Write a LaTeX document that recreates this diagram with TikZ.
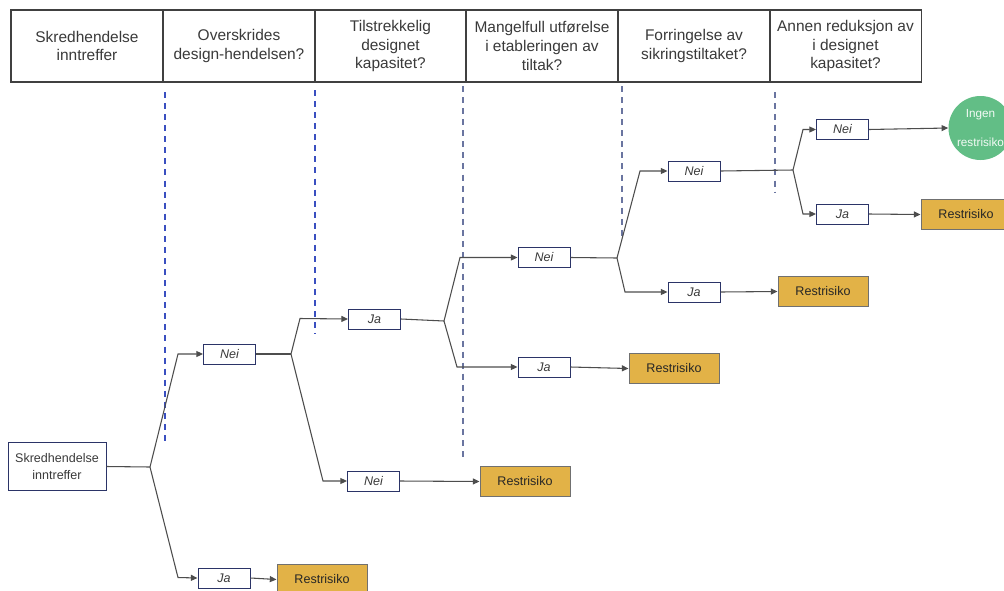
\documentclass[tikz,border=0pt]{standalone}
\usepackage{fontspec}
\setmainfont{Liberation Sans}
\usetikzlibrary{arrows.meta}
\definecolor{navy}{HTML}{2B3467}
\definecolor{boxtext}{HTML}{3A3A3A}
\definecolor{gold}{HTML}{E2B247}
\definecolor{goldedge}{HTML}{707070}
\definecolor{linkgray}{HTML}{4D4D4D}
\definecolor{headedge}{HTML}{404040}
\definecolor{blue1}{HTML}{3A4FC0}
\definecolor{blue2}{HTML}{6A75A0}
\definecolor{okgreen}{HTML}{62BE86}
\tikzset{
  headcell/.style={draw=headedge, line width=0.8pt, minimum width=114pt, minimum height=54pt,
    inner sep=0pt, align=center, font=\fontsize{11.6pt}{14.2pt}\selectfont, text=boxtext},
  answer/.style={draw=navy, line width=0.75pt, fill=white, minimum width=39pt, minimum height=15pt,
    inner sep=0pt, font=\fontsize{9.4pt}{11pt}\selectfont\itshape, text=boxtext},
  startbox/.style={draw=navy, line width=0.75pt, fill=white, minimum width=73.5pt, minimum height=36pt,
    inner sep=0pt, align=center, font=\fontsize{9.4pt}{13pt}\selectfont, text=boxtext},
  result/.style={draw=goldedge, line width=0.75pt, fill=gold, minimum width=67.5pt, minimum height=23pt,
    inner sep=0pt, font=\fontsize{9.4pt}{11pt}\selectfont, text=black!85},
  noresult/.style={circle, fill=okgreen, minimum size=48pt, inner sep=0pt, align=center,
    font=\fontsize{8.8pt}{21.5pt}\selectfont, text=white!92!okgreen},
  link/.style={draw=linkgray, line width=0.8pt},
  arrow/.style={link, -{Triangle[length=5pt,width=4.5pt]}},
  stage/.style={line width=0.8pt, dash pattern=on 4.5pt off 3.8pt},
}
\begin{document}
\begin{tikzpicture}[x=0.75pt,y=-0.75pt]
\clip (0,0) rectangle (1004,590);
\useasboundingbox (0,0) rectangle (1004,590);
\fill[white] (0,0) rectangle (1004,590);

% column headers
\node[headcell] (h1) at (87,46)  {Skredhendelse\\inntreffer};
\node[headcell] (h2) at (239,46) {Overskrides\\design-hendelsen?};
\node[headcell] (h3) at (390.5,46) {Tilstrekkelig\\designet\\kapasitet?};
\node[headcell] (h4) at (542,46) {Mangelfull utførelse\\i etableringen av\\tiltak?};
\node[headcell] (h5) at (694,46) {Forringelse av\\sikringstiltaket?};
\node[headcell] (h6) at (845.5,46) {Annen reduksjon av\\i designet\\kapasitet?};

% stage separators
\draw[stage, blue1] (165,92) -- (165,443);
\draw[stage, blue1] (315,90) -- (315,334);
\draw[stage, blue2] (463,86) -- (463,460);
\draw[stage, blue2] (622,86) -- (622,240);
\draw[stage, blue2] (775,92) -- (775,192);

% nodes
\node[startbox] (s) at (57,466.5) {Skredhendelse\\inntreffer};
\node[answer] (a1n) at (229.5,354) {Nei};
\node[answer] (a1j) at (224,578) {Ja};
\node[result] (r1) at (322,579.5) {Restrisiko};

\node[answer] (a2j) at (374.5,319) {Ja};
\node[answer] (a2n) at (373.5,481) {Nei};
\node[result] (r2) at (525,481.5) {Restrisiko};

\node[answer] (a3n) at (544,257.5) {Nei};
\node[answer] (a3j) at (544,367) {Ja};
\node[result] (r3) at (674,368.5) {Restrisiko};

\node[answer] (a4n) at (694,171) {Nei};
\node[answer] (a4j) at (694,292) {Ja};
\node[result] (r4) at (823,291.5) {Restrisiko};

\node[answer] (a5n) at (842.5,129.5) {Nei};
\node[answer] (a5j) at (842.5,214) {Ja};
\node[result] (r5) at (966,214.5) {Restrisiko};
\node[noresult] (ok) at (980.5,128) {Ingen\\restrisiko};

% branch points and bends
\coordinate (b1) at (150,467);
\coordinate (k1u) at (178,354);
\coordinate (k1d) at (178,577.5);
\coordinate (b2) at (291,354);
\coordinate (k2u) at (300,318.5);
\coordinate (k2d) at (323,481);
\coordinate (b3) at (444,321);
\coordinate (k3u) at (460,257.5);
\coordinate (k3d) at (457,367);
\coordinate (b4) at (617,258);
\coordinate (k4u) at (640,171);
\coordinate (k4d) at (625,292);
\coordinate (b5) at (793,170);
\coordinate (k5u) at (803,129.5);
\coordinate (k5d) at (803,214);

% connectors
\draw[link] (s.east) -- (b1);
\draw[arrow] (b1) -- (k1u) -- (a1n.west);
\draw[arrow] (b1) -- (k1d) -- (a1j.west);
\draw[arrow] (a1j.east) -- (r1.west);

\draw[link] (a1n.east) -- (b2);
\draw[arrow] (b2) -- (k2u) -- (a2j.west);
\draw[arrow] (b2) -- (k2d) -- (a2n.west);
\draw[arrow] (a2n.east) -- (r2.west);

\draw[link] (a2j.east) -- (b3);
\draw[arrow] (b3) -- (k3u) -- (a3n.west);
\draw[arrow] (b3) -- (k3d) -- (a3j.west);
\draw[arrow] (a3j.east) -- (r3.west);

\draw[link] (a3n.east) -- (b4);
\draw[arrow] (b4) -- (k4u) -- (a4n.west);
\draw[arrow] (b4) -- (k4d) -- (a4j.west);
\draw[arrow] (a4j.east) -- (r4.west);

\draw[link] (a4n.east) -- (b5);
\draw[arrow] (b5) -- (k5u) -- (a5n.west);
\draw[arrow] (b5) -- (k5d) -- (a5j.west);
\draw[arrow] (a5j.east) -- (r5.west);
\draw[arrow] (a5n.east) -- (ok.west);
\end{tikzpicture}
\end{document}
